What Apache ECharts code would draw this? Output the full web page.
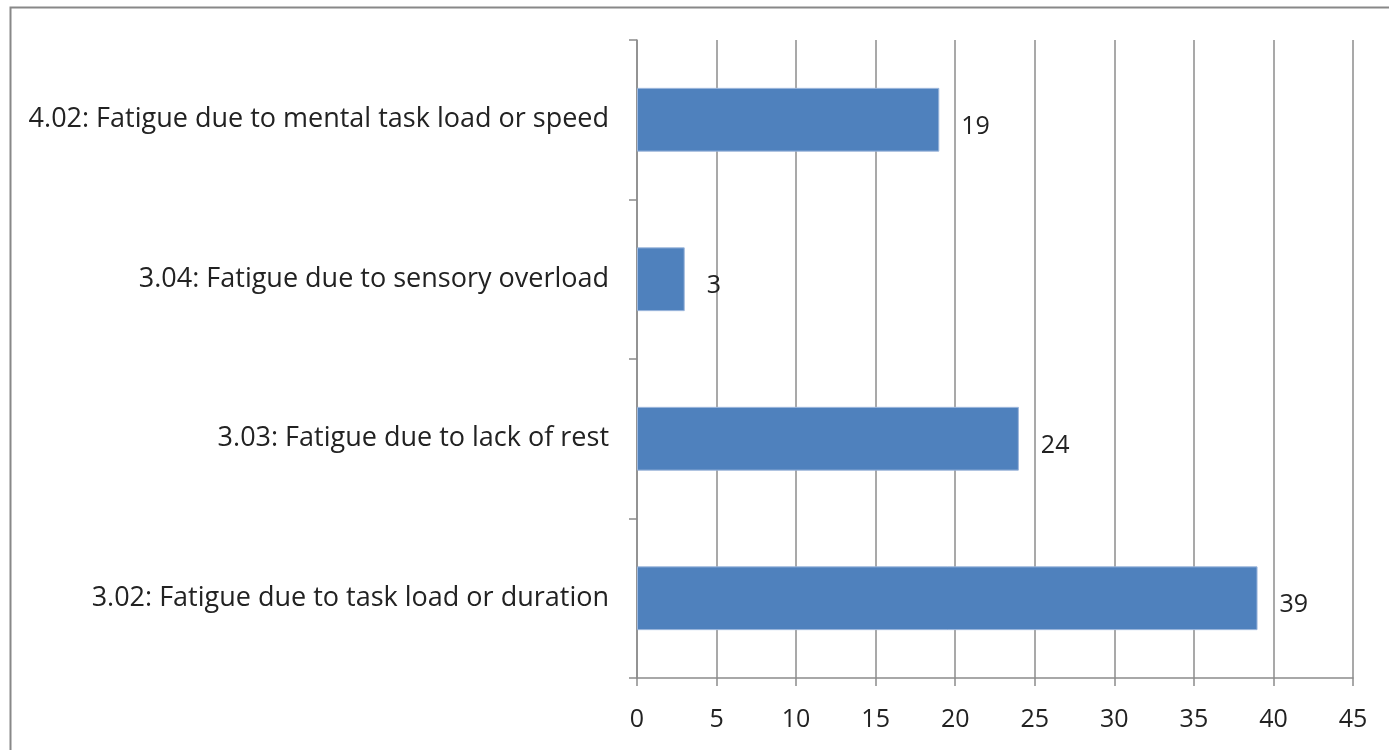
<!DOCTYPE html>
<html>
<head>
<meta charset="utf-8">
<script src="https://cdn.jsdelivr.net/npm/echarts@6/dist/echarts.min.js"></script>
<style>
  html, body { margin: 0; padding: 0; background: #fff; }
  #chart { width: 1389px; height: 750px; }
</style>
</head>
<body>
<div id="chart"></div>
<script>
// bottom to top, as the category axis draws them
const categories = [
  "3.02: Fatigue due to task load or duration",
  "3.03: Fatigue due to lack of rest",
  "3.04: Fatigue due to sensory overload",
  "4.02: Fatigue due to mental task load or speed"
];
const counts = [39, 24, 3, 19];
const xTicks = [0, 45, 5]; // min, max, interval

const chart = echarts.init(document.getElementById("chart"));
const gray = "#8c8c8c";
const font = "'Open Sans', 'Liberation Sans', sans-serif";

chart.setOption({
  animation: false,
  graphic: [{
    type: "rect",
    shape: { x: 10.5, y: 7.5, width: 1400, height: 800 },
    style: { fill: "none", stroke: "#888", lineWidth: 2 }
  }],
  grid: { left: 637, right: 36, top: 40, bottom: 72 },
  xAxis: {
    type: "value",
    min: xTicks[0], max: xTicks[1], interval: xTicks[2],
    axisLine: { show: true, lineStyle: { color: gray, width: 1.5 } },
    axisTick: { show: true, inside: false, length: 8, lineStyle: { color: gray, width: 1.5 } },
    splitLine: { show: true, lineStyle: { color: gray, width: 1.5 } },
    axisLabel: { color: "#222", fontSize: 25, fontFamily: font, margin: 29 }
  },
  yAxis: {
    type: "category",
    data: categories,
    axisLine: { show: true, lineStyle: { color: gray, width: 1.5 } },
    axisTick: { show: true, length: 8, lineStyle: { color: gray, width: 1.5 } },
    axisLabel: { color: "#222", fontSize: 27, fontFamily: font, margin: 28, padding: [12, 0, 0, 0] }
  },
  series: [{
    type: "bar",
    data: counts,
    barWidth: "40%",
    itemStyle: { color: "#4f81bd", borderColor: "#9db7dc", borderWidth: 1 },
    label: {
      show: true, position: "right", distance: 22, offset: [0, 7],
      color: "#222", fontSize: 25, fontFamily: font
    }
  }]
});
</script>
</body>
</html>
